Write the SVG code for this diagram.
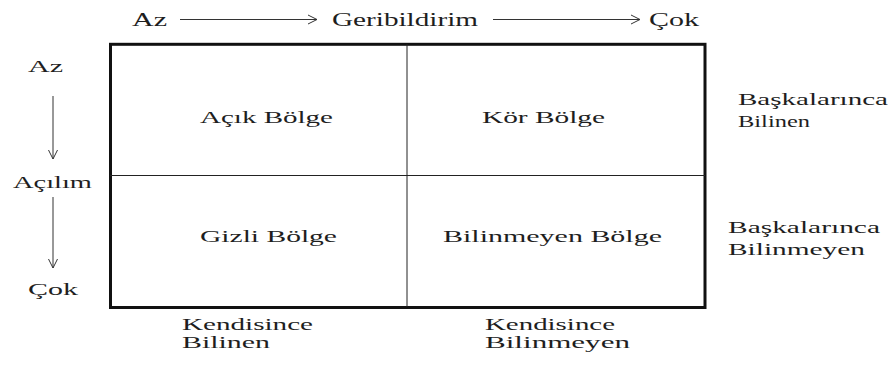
<svg xmlns="http://www.w3.org/2000/svg" width="894" height="365" viewBox="0 0 894 365">
  <style>
    .label { font-family: "Liberation Serif", "Times New Roman", serif; font-size: 17px; fill: #1e1e1e; }
    .top { font-size: 19px; }
    .frame { fill: none; stroke: #111; stroke-width: 3; }
    .divider { stroke: #222; stroke-width: 1; }
    .axis { stroke: #333; stroke-width: 1; fill: none; marker-end: url(#open-head); }
  </style>
  <defs>
    <marker id="open-head" viewBox="0 0 12 12" refX="11" refY="6" markerWidth="12" markerHeight="12" markerUnits="userSpaceOnUse" orient="auto">
      <path d="M2,1.5 L11,6 L2,10.5" fill="none" stroke="#333" stroke-width="1"/>
    </marker>
  </defs>

  <!-- axis arrows -->
  <g id="connectors">
    <line class="axis" x1="180" y1="19.5" x2="317" y2="19.5"/>
    <line class="axis" x1="493" y1="19.5" x2="640" y2="19.5"/>
    <line class="axis" x1="53" y1="96" x2="53" y2="159"/>
    <line class="axis" x1="53" y1="197" x2="53" y2="268"/>
  </g>

  <!-- window frame with quadrant dividers -->
  <g id="window">
    <rect class="frame" x="110.5" y="44.3" width="594.5" height="263.2"/>
    <line class="divider" x1="407" y1="44" x2="407" y2="307"/>
    <line class="divider" x1="110" y1="175.5" x2="705" y2="175.5"/>
  </g>

  <g id="feedback-axis" class="label">
    <text class="label top" x="132" y="26" textLength="35" lengthAdjust="spacingAndGlyphs">Az</text>
    <text class="label top" x="332" y="26" textLength="146" lengthAdjust="spacingAndGlyphs">Geribildirim</text>
    <text class="label top" x="649" y="26" textLength="50" lengthAdjust="spacingAndGlyphs">Çok</text>
  </g>
  <g id="disclosure-axis">
    <text class="label" x="28" y="72" textLength="35" lengthAdjust="spacingAndGlyphs">Az</text>
    <text class="label" x="13" y="188" textLength="79" lengthAdjust="spacingAndGlyphs">Açılım</text>
    <text class="label" x="28" y="295" textLength="50" lengthAdjust="spacingAndGlyphs">Çok</text>
  </g>

  <g id="open-area">
    <text class="label" x="200" y="123" textLength="133" lengthAdjust="spacingAndGlyphs">Açık Bölge</text>
  </g>
  <g id="blind-area">
    <text class="label" x="482" y="123" textLength="123" lengthAdjust="spacingAndGlyphs">Kör Bölge</text>
  </g>
  <g id="hidden-area">
    <text class="label" x="200" y="242" textLength="137" lengthAdjust="spacingAndGlyphs">Gizli Bölge</text>
  </g>
  <g id="unknown-area">
    <text class="label" x="443" y="242" textLength="219" lengthAdjust="spacingAndGlyphs">Bilinmeyen Bölge</text>
  </g>

  <g id="known-to-others">
    <text class="label" x="738" y="105" textLength="150" lengthAdjust="spacingAndGlyphs">Başkalarınca</text>
    <text class="label" x="738" y="127" textLength="72" lengthAdjust="spacingAndGlyphs">Bilinen</text>
  </g>
  <g id="unknown-to-others">
    <text class="label" x="728" y="233" textLength="152" lengthAdjust="spacingAndGlyphs">Başkalarınca</text>
    <text class="label" x="728" y="255" textLength="137" lengthAdjust="spacingAndGlyphs">Bilinmeyen</text>
  </g>

  <g id="known-to-self">
    <text class="label" x="182" y="330" textLength="131" lengthAdjust="spacingAndGlyphs">Kendisince</text>
    <text class="label" x="182" y="348" textLength="88" lengthAdjust="spacingAndGlyphs">Bilinen</text>
  </g>
  <g id="unknown-to-self">
    <text class="label" x="485" y="330" textLength="130" lengthAdjust="spacingAndGlyphs">Kendisince</text>
    <text class="label" x="485" y="348" textLength="145" lengthAdjust="spacingAndGlyphs">Bilinmeyen</text>
  </g>
</svg>
